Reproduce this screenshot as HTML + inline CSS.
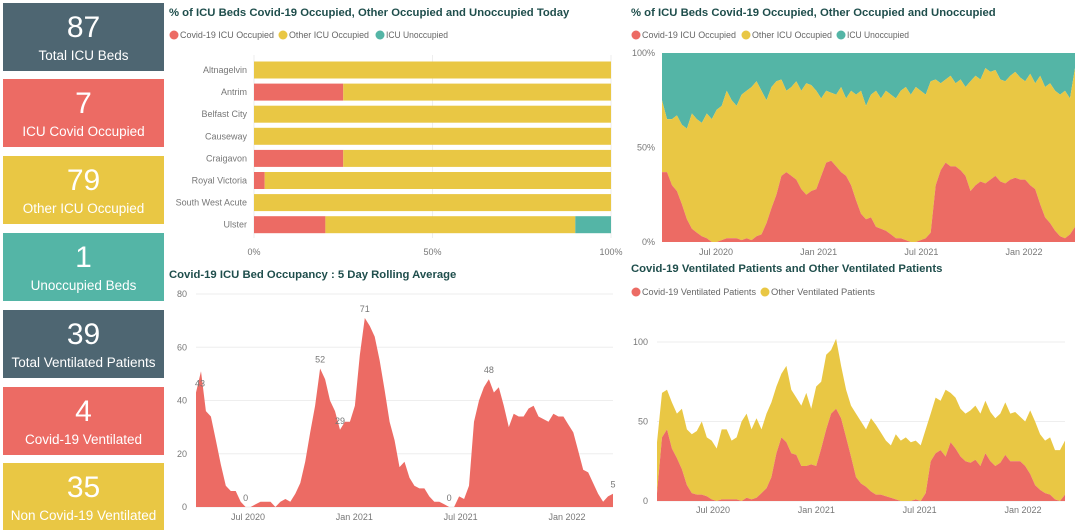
<!DOCTYPE html>
<html><head><meta charset="utf-8">
<style>
body{margin:0;width:1080px;height:530px;overflow:hidden;background:#fff;font-family:"Liberation Sans","DejaVu Sans",sans-serif;position:relative}
.card{position:absolute;left:3px;width:161px;height:68px;color:#fff;text-align:center}
.card .num{position:absolute;left:0;right:0;top:8px;font-size:30px;line-height:34px}
.card .lbl{position:absolute;left:0;right:0;top:44px;font-size:13.5px;line-height:18px;white-space:nowrap}
svg{position:absolute;left:0;top:0}
.title{font-weight:bold;font-size:11.3px;fill:#1f4e4c}
.leg{font-size:9px;fill:#666}
.tick{font-size:9px;fill:#777}
</style></head><body>
<div class="card" style="top:3px;background:#4e6672"><div class="num">87</div><div class="lbl">Total ICU Beds</div></div>
<div class="card" style="top:79px;background:#ec6b64"><div class="num">7</div><div class="lbl">ICU Covid Occupied</div></div>
<div class="card" style="top:156px;background:#e9c744"><div class="num">79</div><div class="lbl">Other ICU Occupied</div></div>
<div class="card" style="top:233px;background:#54b5a6"><div class="num">1</div><div class="lbl">Unoccupied Beds</div></div>
<div class="card" style="top:310px;background:#4e6672"><div class="num">39</div><div class="lbl">Total Ventilated Patients</div></div>
<div class="card" style="top:387px;background:#ec6b64"><div class="num">4</div><div class="lbl">Covid-19 Ventilated</div></div>
<div class="card" style="top:463px;height:67px;background:#e9c744"><div class="num">35</div><div class="lbl">Non Covid-19 Ventilated</div></div>

<svg id="chart" width="1080" height="530"></svg>

<script>
// ---- Bar chart data ----
const hospitals = ["Altnagelvin","Antrim","Belfast City","Causeway","Craigavon","Royal Victoria","South West Acute","Ulster"];
const barCovid = [0,25,0,0,25,3,0,20];
const barOther = [100,75,100,100,75,97,100,70];
const barUnocc = [0,0,0,0,0,0,0,10];
const barTicks = ["0%","50%","100%"];

// ---- Rolling average (Apr 2020 - Mar 2022) ----
const rollValues = [43,51,36,34,25,16,8,6,6,2,0,0,1,2,2,2,0,2,3,2,5,9,17,28,38,52,48,40,36,29,32,32,38,57,71,68,64,55,44,32,25,15,17,11,8,7,7,4,2,2,1,0,0,4,3,8,32,40,45,48,43,45,38,30,35,34,34,37,38,34,33,32,35,34,34,31,28,21,14,13,9,5,2,4,5];
const rollLabelIdx = [0,10,25,29,34,51,59,84];
const rollTicks = [0,20,40,60,80];
const dateTicks = ["Jul 2020","Jan 2021","Jul 2021","Jan 2022"];

// ---- % ICU over time ----
const pctCovid = [37,37,30,27,20,12,7,5,3,2,0,0,1,2,2,2,1,2,1,3,4,10,18,25,35,37,35,33,28,25,27,28,35,42,43,40,37,35,30,22,15,12,13,8,7,6,4,2,2,1,0,0,1,2,5,30,38,42,40,40,38,35,27,30,32,31,33,35,32,31,33,34,33,33,30,28,20,13,10,6,3,2,4,8];
const pctOccupied = [75,65,65,67,62,60,68,65,63,68,65,70,72,80,75,72,78,80,82,85,80,75,82,85,86,80,82,85,80,84,83,80,76,80,79,78,82,76,80,78,80,72,78,80,76,80,78,76,80,82,78,82,80,78,85,86,84,86,88,84,86,82,85,88,86,92,90,91,86,85,88,90,87,85,89,84,88,82,84,80,78,80,76,92];
const pctTicks = [0,50,100];

// ---- Ventilated ----
const ventCovid = [5,40,45,33,27,20,10,5,4,4,3,1,0,1,1,1,1,0,2,1,2,5,8,15,30,40,37,30,29,22,22,23,22,33,45,55,58,52,40,28,15,11,9,6,4,4,3,2,1,0,0,0,1,0,5,25,30,32,28,37,33,28,25,24,26,22,30,25,22,24,29,25,25,25,22,17,10,7,5,4,1,0,4];
const ventTotal = [37,68,70,62,55,58,45,42,44,50,40,38,33,45,45,38,40,50,55,45,52,45,55,62,72,80,85,70,65,60,68,58,72,75,92,95,102,85,70,60,55,50,45,52,48,43,38,35,42,38,40,37,38,35,45,55,65,63,70,68,65,58,55,57,60,55,63,56,52,55,62,55,56,53,50,57,50,42,38,40,32,32,38];
const ventTicks = [0,50,100];

const RED="#ec6b64",YEL="#e9c744",TEAL="#54b5a6";
const svg=document.getElementById('chart');
const NS="http://www.w3.org/2000/svg";
function mk(tag,attrs,parent){const e=document.createElementNS(NS,tag);for(const k in attrs)e.setAttribute(k,attrs[k]);(parent||svg).appendChild(e);return e;}
function txt(x,y,s,cls,anchor){const t=mk('text',{x:x,y:y,class:cls,'text-anchor':anchor||'start'});t.textContent=s;return t;}
function legendItem(x,y,color,label,w){
  const c=mk('circle',{cx:x+5,cy:y-3,r:4.5,fill:color});
  
  
  const t=txt(x+11,y,label,'leg');
  t.setAttribute('textLength',w);
  t.setAttribute('lengthAdjust','spacingAndGlyphs');
  
  
}
function scale(d0,d1,r0,r1){return v=>r0+(v-d0)/(d1-d0)*(r1-r0);}
function areaPath(n,xf,topf,botf){let d='';for(let i=0;i<n;i++)d+=(i?'L':'M')+xf(i).toFixed(1)+','+topf(i).toFixed(1);for(let i=n-1;i>=0;i--)d+='L'+xf(i).toFixed(1)+','+botf(i).toFixed(1);return d+'Z';}

// ===== Bar chart =====
{
  const t=txt(169,16,"% of ICU Beds Covid-19 Occupied, Other Occupied and Unoccupied Today",'title');
  
  legendItem(169,38,RED,"Covid-19 ICU Occupied",94);legendItem(278,38,YEL,"Other ICU Occupied",80);legendItem(375,38,TEAL,"ICU Unoccupied",62);
  const x=scale(0,100,254,611);
  [0,50,100].forEach((v,i)=>{
    const g=mk('line',{x1:x(v),x2:x(v),y1:55,y2:238,stroke:'#eee'});
    
    const tk=txt(x(v),255,barTicks[i],'tick','middle');
    
  });
  const rowY=i=>70+i*22.1;
  hospitals.forEach((h,i)=>{
    const cy=rowY(i);
    const l=txt(247,cy+3,h,'tick','end');
    
    let acc=0;
    [[barCovid,RED,'bar-covid'],[barOther,YEL,'bar-other'],[barUnocc,TEAL,'bar-unoccupied']].forEach(([arr,col,nm])=>{
      const v=arr[i];if(v>0){
        const r=mk('rect',{x:x(acc),y:cy-8.5,width:x(acc+v)-x(acc),height:17,fill:col});
        
      }acc+=v;
    });
  });
}

// ===== Rolling average =====
{
  const t=txt(169,278,"Covid-19 ICU Bed Occupancy : 5 Day Rolling Average",'title');
  
  const y=scale(0,80,507,294), x=scale(0,rollValues.length-1,196,613);
  rollTicks.forEach(v=>{
    const g=mk('line',{x1:196,x2:613,y1:y(v),y2:y(v),stroke:'#eee'});
    
    const tk=txt(187,y(v)+3,String(v),'tick','end');
    
  });
  const p=mk('path',{d:areaPath(rollValues.length,x,i=>y(rollValues[i]),()=>y(0)),fill:RED});
  
  rollLabelIdx.forEach(i=>{
    const l=txt(x(i)+(i===0?4:0),y(rollValues[i])-6,String(rollValues[i]),'tick','middle');
    
  });
  const dx=scale(0,3,248,567);
  dateTicks.forEach((s,i)=>{const tk=txt(dx(i),520,s,'tick','middle');});
}

// ===== % over time =====
{
  const t=txt(631,16,"% of ICU Beds Covid-19 Occupied, Other Occupied and Unoccupied",'title');
  
  legendItem(631,38,RED,"Covid-19 ICU Occupied",94);legendItem(741,38,YEL,"Other ICU Occupied",80);legendItem(836,38,TEAL,"ICU Unoccupied",62);
  const y=scale(0,100,242,53), x=scale(0,pctCovid.length-1,662,1075);
  const n=pctCovid.length;
  const u=mk('path',{d:areaPath(n,x,()=>y(100),i=>y(pctOccupied[i])),fill:TEAL});
  
  const o=mk('path',{d:areaPath(n,x,i=>y(pctOccupied[i]),i=>y(pctCovid[i])),fill:YEL});
  
  const c=mk('path',{d:areaPath(n,x,i=>y(pctCovid[i]),()=>y(0)),fill:RED});
  
  pctTicks.forEach(v=>{const tk=txt(655,y(v)+3,v+'%','tick','end');});
  const dx=scale(0,3,716,1024);
  dateTicks.forEach((s,i)=>{const tk=txt(dx(i),255,s,'tick','middle');});
}

// ===== Ventilated =====
{
  const t=txt(631,272,"Covid-19 Ventilated Patients and Other Ventilated Patients",'title');
  
  legendItem(631,295,RED,"Covid-19 Ventilated Patients",114);legendItem(760,295,YEL,"Other Ventilated Patients",104);
  const y=scale(0,100,501,342), x=scale(0,ventCovid.length-1,657,1065);
  ventTicks.forEach(v=>{
    const g=mk('line',{x1:657,x2:1065,y1:y(v),y2:y(v),stroke:'#eee'});
    
    const tk=txt(648,y(v)+3,String(v),'tick','end');
  });
  const n=ventCovid.length;
  const o=mk('path',{d:areaPath(n,x,i=>y(ventTotal[i]),i=>y(ventCovid[i])),fill:YEL});
  
  const c=mk('path',{d:areaPath(n,x,i=>y(ventCovid[i]),()=>y(0)),fill:RED});
  
  const dx=scale(0,3,713,1023);
  dateTicks.forEach((s,i)=>{const tk=txt(dx(i),513,s,'tick','middle');});
}
</script>
</body></html>
